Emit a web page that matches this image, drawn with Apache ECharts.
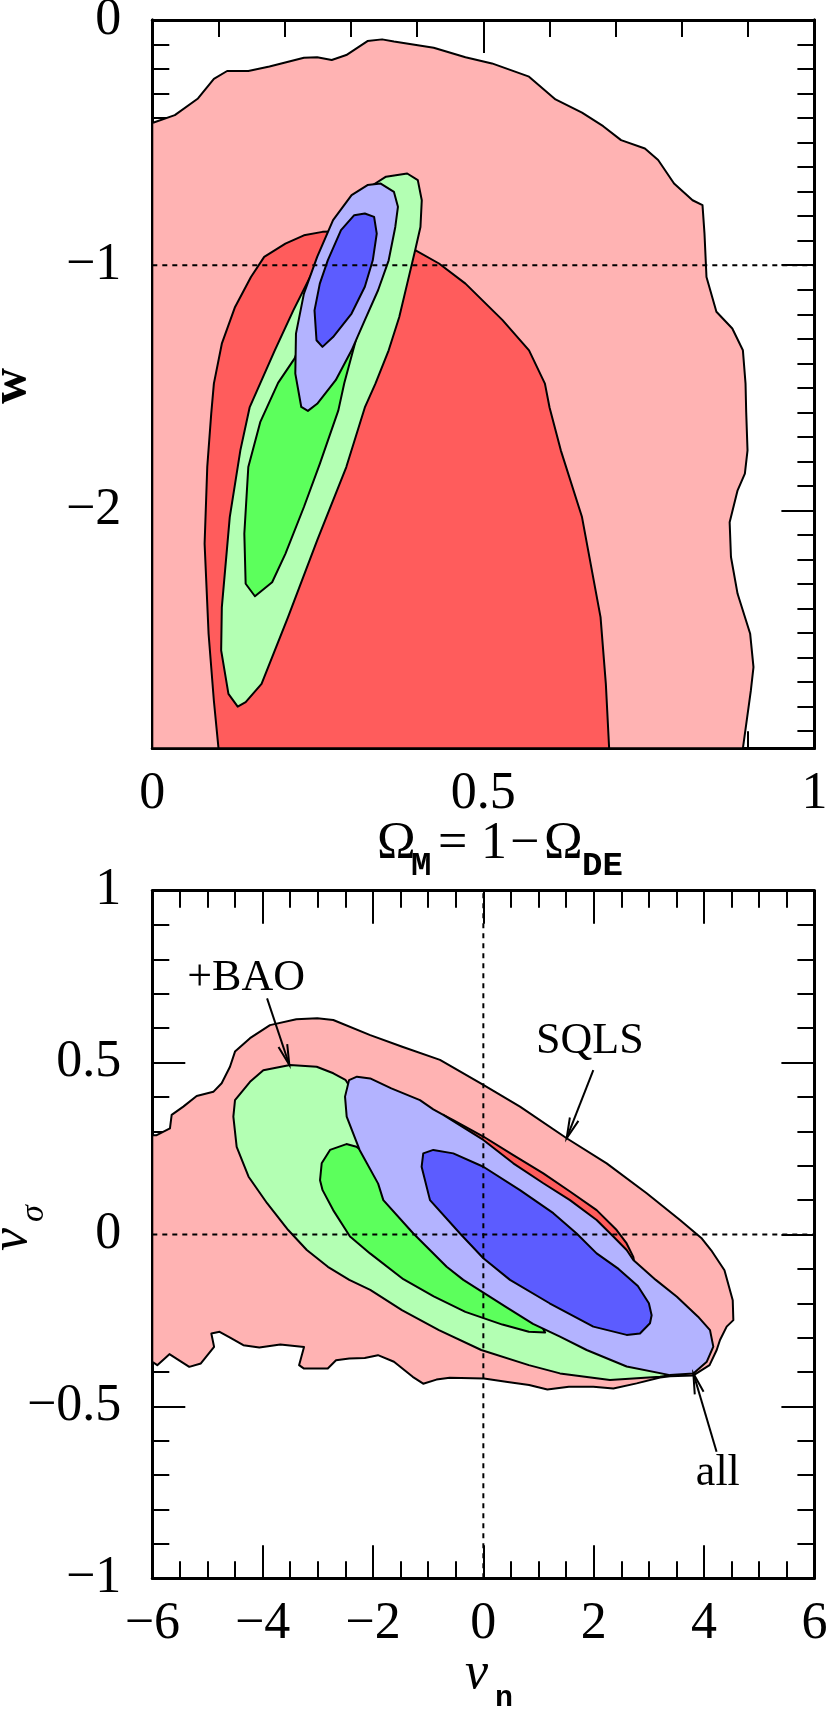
<!DOCTYPE html>
<html><head><meta charset="utf-8">
<script src="https://cdn.jsdelivr.net/npm/echarts@6/dist/echarts.min.js"></script>
<style>html,body{margin:0;padding:0;background:#fff}#c{width:830px;height:1711px}</style>
</head><body><div id="c"></div>
<script>
// ---------------- tick values / labels ----------------
const omegaTicks = [0, 0.5, 1];
const omegaTickLabels = ['0', '0.5', '1'];
const wTicks = [0, -1, -2];
const wTickLabels = ['0', '\u22121', '\u22122'];
const nuNTicks = [-6, -4, -2, 0, 2, 4, 6];
const nuNTickLabels = ['\u22126', '\u22124', '\u22122', '0', '2', '4', '6'];
const nuSigTicks = [-1, -0.5, 0, 0.5, 1];
const nuSigTickLabels = ['\u22121', '\u22120.5', '0', '0.5', '1'];

// ---------------- top panel contours [Omega_M, w] ----------------
const sqls95Top = [[0,-2.97],[0,-0.42],[0.034,-0.388],[0.069,-0.32],[0.093,-0.24],[0.113,-0.208],[0.145,-0.208],[0.177,-0.19],[0.229,-0.154],[0.249,-0.152],[0.271,-0.163],[0.293,-0.143],[0.325,-0.086],[0.347,-0.079],[0.365,-0.088],[0.401,-0.103],[0.425,-0.113],[0.473,-0.152],[0.513,-0.177],[0.569,-0.231],[0.609,-0.324],[0.649,-0.378],[0.681,-0.433],[0.708,-0.49],[0.744,-0.524],[0.764,-0.571],[0.788,-0.667],[0.816,-0.735],[0.831,-0.755],[0.834,-0.871],[0.837,-1.048],[0.852,-1.19],[0.876,-1.258],[0.892,-1.347],[0.896,-1.483],[0.897,-1.6],[0.899,-1.755],[0.895,-1.85],[0.884,-1.918],[0.872,-2.048],[0.874,-2.19],[0.884,-2.34],[0.903,-2.503],[0.908,-2.639],[0.904,-2.735],[0.892,-2.97]];
const sqls68Top = [[0.1,-2.97],[0.093,-2.776],[0.085,-2.503],[0.079,-2.136],[0.083,-1.823],[0.089,-1.605],[0.093,-1.483],[0.105,-1.32],[0.125,-1.17],[0.149,-1.048],[0.169,-0.966],[0.201,-0.912],[0.229,-0.878],[0.257,-0.864],[0.3,-0.86],[0.35,-0.88],[0.393,-0.932],[0.433,-0.993],[0.473,-1.075],[0.529,-1.224],[0.569,-1.347],[0.593,-1.483],[0.6,-1.58],[0.617,-1.755],[0.649,-2.027],[0.677,-2.435],[0.685,-2.707],[0.69,-2.97]];
const bao95Top = [[0.385,-0.626],[0.401,-0.653],[0.407,-0.735],[0.405,-0.844],[0.397,-0.939],[0.385,-1.075],[0.373,-1.211],[0.357,-1.347],[0.337,-1.483],[0.321,-1.58],[0.293,-1.823],[0.249,-2.122],[0.205,-2.435],[0.165,-2.707],[0.141,-2.782],[0.129,-2.8],[0.115,-2.748],[0.104,-2.571],[0.105,-2.395],[0.117,-2.027],[0.133,-1.755],[0.147,-1.58],[0.185,-1.347],[0.213,-1.184],[0.241,-1.034],[0.269,-0.871],[0.297,-0.748],[0.329,-0.68],[0.353,-0.639]];
const bao68Top = [[0.155,-2.35],[0.141,-2.299],[0.139,-2.095],[0.145,-1.823],[0.163,-1.64],[0.19,-1.48],[0.215,-1.38],[0.24,-1.2],[0.27,-1.07],[0.3,-1.05],[0.318,-1.15],[0.317,-1.211],[0.303,-1.35],[0.29,-1.48],[0.281,-1.592],[0.253,-1.81],[0.229,-1.986],[0.201,-2.177],[0.181,-2.293]];
const all95Top = [[0.345,-0.667],[0.365,-0.701],[0.371,-0.762],[0.367,-0.844],[0.357,-0.98],[0.341,-1.102],[0.321,-1.224],[0.301,-1.347],[0.277,-1.469],[0.249,-1.565],[0.235,-1.594],[0.225,-1.578],[0.216,-1.442],[0.217,-1.279],[0.229,-1.116],[0.249,-0.966],[0.273,-0.816],[0.301,-0.714],[0.325,-0.673]];
const all68Top = [[0.321,-0.789],[0.335,-0.803],[0.339,-0.871],[0.333,-0.98],[0.321,-1.088],[0.301,-1.197],[0.273,-1.293],[0.257,-1.333],[0.248,-1.306],[0.245,-1.184],[0.253,-1.075],[0.265,-0.98],[0.285,-0.857],[0.305,-0.796]];
const wRefLine = [[0,-1],[1,-1]];

// ---------------- bottom panel contours [nu_n, nu_sigma] ----------------
const sqls95Bot = [[-6,0.289],[-5.921,0.289],[-5.68,0.309],[-5.649,0.348],[-5.438,0.372],[-5.196,0.403],[-4.894,0.415],[-4.743,0.44],[-4.592,0.488],[-4.501,0.532],[-4.229,0.571],[-3.867,0.609],[-3.39,0.626],[-3.01,0.629],[-2.72,0.624],[-2.05,0.58],[-1.47,0.546],[-0.786,0.508],[0.0,0.435],[0.664,0.372],[1.51,0.28],[2.235,0.207],[2.96,0.12],[3.564,0.042],[3.95,-0.01],[4.13,-0.046],[4.37,-0.104],[4.52,-0.191],[4.531,-0.249],[4.41,-0.268],[4.289,-0.307],[4.229,-0.336],[4.1,-0.38],[3.806,-0.41],[3.383,-0.412],[3.202,-0.416],[2.779,-0.433],[2.356,-0.448],[1.993,-0.443],[1.55,-0.443],[1.16,-0.451],[0.83,-0.438],[0.44,-0.429],[0.01,-0.419],[-0.61,-0.417],[-0.85,-0.422],[-1.09,-0.434],[-1.28,-0.414],[-1.62,-0.37],[-1.91,-0.351],[-2.15,-0.359],[-2.43,-0.361],[-2.67,-0.366],[-2.82,-0.39],[-3.25,-0.39],[-3.34,-0.38],[-3.25,-0.327],[-3.68,-0.32],[-4.06,-0.329],[-4.35,-0.322],[-4.59,-0.3],[-4.78,-0.283],[-4.93,-0.288],[-4.88,-0.327],[-5.12,-0.375],[-5.33,-0.385],[-5.69,-0.348],[-5.91,-0.38],[-6,-0.37]];
const sqls68Bot = [[-0.726,0.348],[-0.545,0.333],[0.0,0.285],[0.543,0.231],[1.087,0.178],[1.57,0.125],[2.053,0.071],[2.416,0.013],[2.597,-0.026],[2.718,-0.065],[2.74,-0.085],[2.55,-0.12],[2.0,-0.05],[1.2,0.05],[0.4,0.14],[-0.3,0.22],[-0.7,0.3]];
const bao95Bot = [[-3.504,0.493],[-3.988,0.478],[-4.229,0.444],[-4.501,0.391],[-4.531,0.343],[-4.471,0.255],[-4.255,0.168],[-3.92,0.091],[-3.537,0.013],[-3.2,-0.045],[-2.818,-0.094],[-2.43,-0.132],[-2.05,-0.161],[-1.476,-0.22],[-0.805,-0.278],[-0.038,-0.336],[0.824,-0.38],[1.389,-0.404],[2.295,-0.423],[3.202,-0.414],[3.383,-0.409],[3.3,-0.38],[2.0,-0.3],[0.5,-0.15],[-1.0,0.1],[-2.0,0.3],[-2.3,0.4],[-2.5,0.45],[-2.719,0.469],[-3.021,0.488]];
const bao68Bot = [[-2.3,0.255],[-2.482,0.263],[-2.779,0.246],[-2.93,0.207],[-2.96,0.158],[-2.914,0.129],[-2.722,0.071],[-2.417,-0.006],[-2.054,-0.055],[-1.45,-0.13],[-0.9,-0.18],[-0.326,-0.225],[0.345,-0.262],[0.824,-0.283],[1.12,-0.285],[0.9,-0.22],[0.0,-0.1],[-1.0,0.08],[-1.7,0.17],[-2.1,0.23]];
const all95Bot = [[-2.291,0.459],[-2.434,0.449],[-2.507,0.401],[-2.477,0.343],[-2.243,0.246],[-1.907,0.148],[-1.813,0.1],[-1.269,0.003],[-0.665,-0.094],[-0.363,-0.132],[0.4,-0.21],[0.9,-0.26],[1.389,-0.297],[1.872,-0.336],[2.597,-0.384],[3.383,-0.409],[3.806,-0.404],[4.05,-0.37],[4.168,-0.326],[4.108,-0.278],[3.891,-0.239],[3.508,-0.181],[3.125,-0.132],[2.718,-0.074],[2.597,-0.045],[2.355,-0.006],[2.053,0.042],[1.57,0.1],[1.087,0.149],[0.543,0.207],[0.0,0.275],[-0.545,0.33],[-0.726,0.348],[-0.907,0.364],[-1.149,0.391],[-1.668,0.425],[-2.051,0.454]];
const all68Bot = [[-1.089,0.236],[-0.907,0.246],[-0.545,0.236],[0.0,0.197],[0.664,0.129],[1.268,0.062],[1.691,0.003],[2.053,-0.055],[2.45,-0.1],[2.8,-0.15],[3.0,-0.2],[3.05,-0.235],[3.02,-0.258],[2.839,-0.288],[2.597,-0.292],[1.993,-0.268],[1.2,-0.2],[0.483,-0.132],[0.0,-0.069],[-0.423,0.003],[-0.967,0.1],[-1.119,0.197]];
const sigRefLine = [[-6,0],[6,0]];
const nRefLine = [[0,-1],[0,1]];

// ---------------- annotations (bottom panel) ----------------
const noteText = ['+BAO', 'SQLS', 'all'];
const notePos = [[-4.30,0.745],[1.93,0.561],[4.25,-0.694]];
const arrowFrom = [[-3.92,0.687],[1.993,0.478],[4.227,-0.632]];
const arrowTo = [[-3.516,0.493],[1.51,0.28],[3.806,-0.404]];

// ---------------- styling ----------------
const SERIF = '"Liberation Serif", "Times New Roman", serif';
const MONO = '"Liberation Mono", "Courier New", monospace';
const C = {pink:'#ffb3b3', red:'#ff5c5c', lgreen:'#b3ffb3', green:'#5cff5c', lblue:'#b3b3ff', blue:'#5c5cff'};
const G1 = {left:152.3, top:20, width:662.1, height:728.3};
const G2 = {left:152.3, top:890.7, width:662.1, height:687.6};
const TICKFONT = 52;

function labelFor(v, ticks, labels) {
  const i = ticks.findIndex(t => Math.abs(t - v) < 1e-6);
  return i >= 0 ? labels[i] : '';
}
const baseLine = {show:true, onZero:false, lineStyle:{color:'#000', width:3}};
function lab(ticks, labels, margin) {
  return {show:true, margin, fontSize:TICKFONT, fontFamily:SERIF, color:'#000', showMinLabel:true, showMaxLabel:true,
    formatter: v => labelFor(v, ticks, labels)};
}
function xAx(gi, pos, min, max, interval, split, ticks, labels) {
  return {type:'value', gridIndex:gi, position:pos, min, max, interval,
    axisLine:baseLine,
    axisTick:{show:true, inside:true, length:33, lineStyle:{color:'#000', width:2}},
    minorTick:{show:true, splitNumber:split, length:17, lineStyle:{color:'#000', width:2}},
    splitLine:{show:false}, minorSplitLine:{show:false},
    axisLabel: labels ? lab(ticks, labels, 20) : {show:false}};
}
function yAxInt(gi, pos, min, max, interval, split, ticks, labels) {
  const a = xAx(gi, pos, min, max, interval, split, ticks, labels);
  if (labels) a.axisLabel.margin = 31;
  return a;
}
const wMinor = [];
for (let k = 1; k < 30; k++) { if (k % 10) wMinor.push(-k / 10); }
function yAxCustom(pos, values, len, withLabels) {
  return {type:'value', gridIndex:0, position:pos, min:-2.97, max:0,
    axisLine:baseLine,
    axisTick:{show:true, inside:true, length:len, customValues:values, lineStyle:{color:'#000', width:2}},
    minorTick:{show:false}, splitLine:{show:false},
    axisLabel: withLabels ? Object.assign(lab(wTicks, wTickLabels, 31), {customValues:wTicks}) : {show:false}};
}

function poly(pts, fill, xi, yi) {
  return {type:'custom', xAxisIndex:xi, yAxisIndex:yi, silent:true, z:2, data:[[0,0]],
    renderItem(params, api) {
      return {type:'polygon', shape:{points: pts.map(p => api.coord(p))},
        style:{fill, stroke:'#000', lineWidth:2, lineJoin:'round'}};
    }};
}
function ref(data, xi, yi) {
  return {type:'line', xAxisIndex:xi, yAxisIndex:yi, data, symbol:'none', silent:true, z:5,
    lineStyle:{color:'#000', width:2, type:[5,5]}};
}

// text helper: baseline placed at y (Liberation fonts, middle ~0.34em above baseline)
function txt(s, x, base, size, family, opts) {
  const k = family === MONO ? 0.27 : 0.3375;
  return Object.assign({type:'text', x, y: base - k * size,
    style:Object.assign({text:s, fontSize:size, fontFamily:family, fill:'#000', align:'left', verticalAlign:'middle'}, opts || {})});
}

const chart = echarts.init(document.getElementById('c'), null, {renderer:'canvas', width:830, height:1711});
chart.setOption({
  animation:false,
  backgroundColor:'#fff',
  grid:[Object.assign({outerBoundsMode:'none', containLabel:false}, G1), Object.assign({outerBoundsMode:'none', containLabel:false}, G2)],
  xAxis:[
    xAx(0, 'bottom', 0, 1, 0.5, 5, omegaTicks, omegaTickLabels),
    xAx(0, 'top', 0, 1, 0.5, 5, null, null),
    xAx(1, 'bottom', -6, 6, 2, 4, nuNTicks, nuNTickLabels),
    xAx(1, 'top', -6, 6, 2, 4, null, null)
  ],
  yAxis:[
    yAxCustom('left', wTicks, 33, true),
    yAxCustom('left', wMinor, 17, false),
    yAxCustom('right', wTicks, 33, false),
    yAxCustom('right', wMinor, 17, false),
    yAxInt(1, 'left', -1, 1, 0.5, 5, nuSigTicks, nuSigTickLabels),
    yAxInt(1, 'right', -1, 1, 0.5, 5, null, null)
  ],
  series:[
    poly(sqls95Top, C.pink, 0, 0), poly(sqls68Top, C.red, 0, 0),
    poly(bao95Top, C.lgreen, 0, 0), poly(bao68Top, C.green, 0, 0),
    poly(all95Top, C.lblue, 0, 0), poly(all68Top, C.blue, 0, 0),
    ref(wRefLine, 0, 0),
    poly(sqls95Bot, C.pink, 2, 4), poly(sqls68Bot, C.red, 2, 4),
    poly(bao95Bot, C.lgreen, 2, 4), poly(bao68Bot, C.green, 2, 4),
    poly(all95Bot, C.lblue, 2, 4), poly(all68Bot, C.blue, 2, 4),
    ref(sigRefLine, 2, 4), ref(nRefLine, 2, 4),
    {type:'custom', xAxisIndex:2, yAxisIndex:4, silent:true, z:10,
      data: noteText.map((t, i) => [i]),
      renderItem(params, api) {
        const i = params.dataIndex;
        const p = api.coord(notePos[i]);
        const a = api.coord(arrowFrom[i]), b = api.coord(arrowTo[i]);
        const ang = Math.atan2(b[1] - a[1], b[0] - a[0]);
        const L = 21, h = 0.22;
        const h1 = [b[0] - L * Math.cos(ang - h), b[1] - L * Math.sin(ang - h)];
        const h2 = [b[0] - L * Math.cos(ang + h), b[1] - L * Math.sin(ang + h)];
        return {type:'group', children:[
          {type:'text', x:p[0], y:p[1], style:{text:noteText[i], fontSize:44, fontFamily:SERIF, fill:'#000', align:'center', verticalAlign:'middle'}},
          {type:'line', shape:{x1:a[0], y1:a[1], x2:b[0], y2:b[1]}, style:{stroke:'#000', lineWidth:2}},
          {type:'polyline', shape:{points:[h1, b, h2]}, style:{stroke:'#000', lineWidth:2, fill:null}}
        ]};
      }}
  ],
  graphic:[
    // Omega_M = 1 - Omega_DE
    txt('\u03A9', 377, 862, 52, SERIF),
    txt('M', 411, 876, 34, MONO, {fontWeight:'bold'}),
    txt('=', 438, 862, 52, SERIF),
    txt('1', 481, 862, 52, SERIF),
    txt('\u2212', 510, 862, 52, SERIF),
    txt('\u03A9', 544, 862, 52, SERIF),
    txt('DE', 582, 876, 34, MONO, {fontWeight:'bold'}),
    // w (rotated)
    {type:'group', x:29, y:404, rotation:Math.PI / 2, children:[
      txt('w', 0, 0, 50, SERIF, {fontWeight:'bold'})
    ]},
    // nu_sigma (rotated)
    {type:'group', x:30, y:1251, rotation:Math.PI / 2, children:[
      txt('\u03BD', 0, 0, 52, SERIF, {fontStyle:'italic'}),
      txt('\u03C3', 29, 16, 34, SERIF, {fontStyle:'italic'})
    ]},
    // nu_n
    txt('\u03BD', 465, 1691.7, 52, SERIF, {fontStyle:'italic'}),
    txt('n', 495, 1706.7, 30, MONO, {fontWeight:'bold'})
  ]
});
</script></body></html>
